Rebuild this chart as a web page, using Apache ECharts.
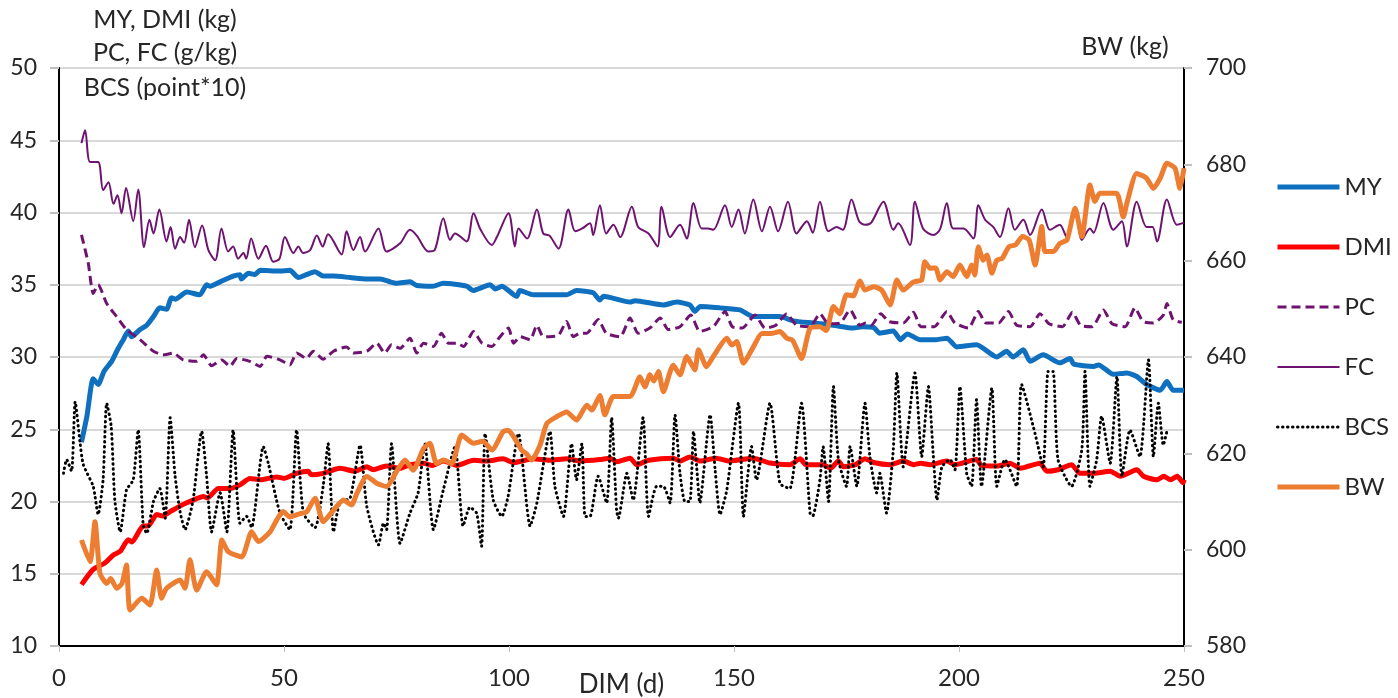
<!DOCTYPE html>
<html>
<head>
<meta charset="utf-8">
<title>DIM chart</title>
<script src="https://cdn.jsdelivr.net/npm/echarts@6/dist/echarts.min.js"></script>
<style>
  html, body { margin: 0; padding: 0; background: #fff; }
  #chart { width: 1398px; height: 698px; }
</style>
</head>
<body>
<div id="chart"></div>
<script>
  // [DIM, value] pairs
  const myData = [[5,24.1],[6.2,25.9],[7.6,28.5],[8.7,28.1],[10,29.0],[11.7,29.7],[13,30.5],[14.3,31.2],[15.4,31.8],[16.1,31.4],[18,31.9],[19.5,32.2],[21,32.8],[22.4,33.4],[23.9,33.3],[25,34.1],[25.8,34.0],[28.4,34.5],[31.3,34.3],[32.8,35.0],[33.6,34.9],[35.8,35.2],[38.7,35.6],[40.2,35.7],[40.5,35.4],[42.1,35.8],[43.5,35.7],[44.7,36.0],[49,35.95],[51.3,36.0],[53.2,35.5],[55,35.7],[56.9,35.9],[58.7,35.6],[61,35.6],[64.7,35.5],[68.4,35.4],[71.4,35.4],[73.6,35.2],[75,35.1],[78,35.2],[79.5,34.95],[83.1,34.9],[85.4,35.1],[90.6,34.9],[92,34.6],[95.8,35.0],[97,34.7],[98.4,34.9],[101.7,34.2],[102.4,34.6],[105.4,34.3],[112.8,34.3],[115,34.6],[118.7,34.45],[120.2,33.95],[121,34.2],[126.9,33.8],[128,33.9],[134.3,33.6],[137.3,33.8],[140.2,33.6],[141.3,33.15],[142.5,33.5],[146.9,33.4],[151.3,33.26],[154.3,32.8],[160.2,32.8],[163.2,32.5],[167.6,32.35],[172,32.2],[176.5,32.0],[178.5,32.1],[181,32.05],[182.4,31.65],[185.4,31.8],[187,31.2],[188.5,31.6],[191.3,31.2],[195,31.2],[197.3,31.3],[199.5,30.7],[203.9,30.85],[208.4,30.0],[210.6,30.4],[212,30.0],[214.3,30.5],[215.8,29.7],[218.7,30.15],[222.4,29.6],[224.7,29.9],[225.5,29.5],[229.9,29.35],[231,29.45],[234.3,28.8],[237.3,28.9],[239.5,28.65],[241.7,28.1],[244.7,27.7],[246.2,28.3],[247.6,27.7],[250,27.7]];

  const dmiData = [[5,14.25],[7.6,15.3],[10.2,15.75],[12.1,16.3],[13.6,16.55],[15.4,17.35],[16.2,17.2],[18.7,18.3],[19.8,18.3],[21.7,19.1],[23,19.0],[24.7,19.3],[27.6,19.8],[29.8,20.1],[32.1,20.35],[33,20.25],[35.4,20.9],[38,20.9],[40.2,21.15],[42.4,21.6],[44.7,21.5],[48.4,21.7],[50,21.6],[52.8,21.95],[55.4,22.1],[56,21.85],[58.7,21.95],[62.4,22.3],[65.8,22.1],[68.4,22.4],[69.8,22.2],[72.8,22.45],[75.8,22.3],[78,22.55],[81,22.65],[83,22.5],[85.4,22.8],[88.4,22.5],[92.1,22.85],[95,22.8],[98.7,22.95],[101,22.7],[105.4,22.95],[109,22.85],[112.8,22.95],[116,22.8],[120.2,22.9],[122.4,23.0],[124,22.75],[126.9,23.0],[128.4,22.55],[131,22.85],[136.5,23.0],[138,22.8],[140.2,23.08],[142.5,22.8],[146,23.0],[149,22.8],[154.3,23.0],[158,22.66],[162.4,22.55],[164.7,22.95],[166,22.55],[169.8,22.55],[171.5,22.3],[173.2,22.8],[174.3,22.4],[177,22.55],[179.1,22.95],[181,22.7],[184.7,22.55],[187.6,22.8],[190,22.55],[191.5,22.65],[193.6,22.55],[197.3,22.8],[199,22.55],[203.9,22.9],[205,22.5],[208.4,22.45],[211.3,22.65],[213.6,22.3],[218,22.65],[219.5,22.1],[222,22.2],[225,22.55],[226.9,21.95],[230,21.95],[233.6,22.1],[235.8,21.75],[239.5,22.2],[241,21.75],[244,21.5],[245.5,21.75],[247,21.5],[248.5,21.75],[249.8,21.3],[250,21.5]];

  const pcData = [[5,38.45],[6.5,36.5],[7.6,34.4],[8.7,35.0],[10.6,33.7],[12.8,32.8],[15,31.9],[18,31.2],[21,30.4],[23.2,30.15],[25.4,30.27],[27.6,29.8],[30.6,29.7],[32.1,30.15],[33.9,29.4],[36.2,29.8],[38,29.35],[39.5,29.9],[42.4,29.7],[44.7,29.35],[46.2,30.05],[49.1,29.8],[51.3,29.45],[52.8,30.27],[55,29.9],[56.5,30.4],[58.7,29.85],[61,30.4],[63.9,30.7],[65.4,30.27],[68.4,30.4],[70.6,30.96],[72.4,30.27],[73.9,30.85],[75.8,30.6],[78,31.3],[79.5,30.27],[81,30.96],[83.2,30.73],[85,31.65],[86.5,30.96],[88.4,30.96],[89.9,30.73],[92.1,31.77],[94,30.96],[96.2,30.73],[98,31.4],[99.9,32.0],[101,30.96],[102.5,31.4],[104.7,31.2],[106.2,32.2],[107.6,31.4],[109,31.4],[111,31.5],[112.8,32.45],[114.3,31.4],[115.8,31.65],[117.3,31.65],[119.8,32.6],[121.6,31.65],[124.7,31.4],[126.9,32.7],[128.7,31.65],[131.3,32.0],[133.6,32.7],[135.4,31.9],[138,32.1],[140.4,32.9],[142.4,31.77],[145.4,32.1],[148,33.15],[149.6,32.1],[151.8,32.0],[154.7,32.9],[156.9,32.0],[159.3,32.2],[161.7,33.0],[163.9,32.2],[166.9,32.1],[169.1,33.0],[171,32.3],[173.6,32.35],[175.8,33.26],[178,32.2],[179.3,32.35],[180.5,32.2],[182.6,33.0],[184.4,32.45],[187.6,32.35],[189.9,33.1],[191.5,32.1],[194.5,32.1],[197.3,33.15],[199.1,32.35],[202.1,32.0],[204.3,33.15],[206,32.35],[208.8,32.35],[211,33.15],[212.8,32.2],[215.8,32.1],[218,33.0],[220,32.3],[223,32.1],[225.2,33.1],[227,32.2],[229.6,32.1],[232.1,33.26],[234,32.3],[236.9,32.1],[239.1,33.4],[240.9,32.45],[243.2,32.35],[245.4,32.9],[246.2,33.7],[247.6,32.57],[249.5,32.4]];

  const fcData = [[5,44.8],[5.8,45.7],[6.9,43.5],[8.7,43.5],[9.8,41.55],[11,42.1],[12.1,40.6],[13,41.2],[13.9,39.95],[14.9,41.7],[16.5,39.4],[17.6,41.6],[18.9,37.6],[20.1,39.5],[21,38.55],[22.3,40.2],[23.9,38.0],[24.8,39.0],[25.8,37.5],[26.9,38.3],[27.8,37.9],[28.9,39.5],[30.2,37.6],[31.8,39.1],[33.2,37.4],[34.7,36.7],[36.1,38.9],[37.6,37.3],[38.7,37.65],[39.8,36.8],[41,37.2],[41.6,36.8],[42.7,38.2],[44.3,36.8],[46,37.7],[47.6,36.6],[49,36.8],[50.2,38.3],[52.1,37.2],[53.2,37.65],[54.2,37.2],[55.8,37.4],[57.3,38.4],[58.6,37.65],[59.8,38.5],[62.8,37.1],[63.9,38.7],[65.4,37.4],[66.9,38.3],[68,37.3],[71,38.9],[72.8,37.3],[75.8,37.87],[78,38.8],[79.5,38.4],[82.1,37.3],[83.5,37.4],[85.4,39.6],[86.9,38.1],[88,38.55],[90.6,38.0],[92.1,39.95],[93.7,38.8],[96.2,37.75],[97.3,38.3],[99.9,39.95],[101.3,37.65],[102.1,38.9],[104,38.2],[106.2,40.2],[107.6,38.55],[109,38.4],[111,37.5],[113.2,40.2],[114.7,38.7],[116.3,38.9],[118,39.25],[118.7,38.45],[120.2,40.5],[121.6,38.55],[123.2,39.15],[124.7,38.3],[127.3,40.4],[128.7,39.0],[131,38.55],[133,37.65],[133.9,40.4],[135.8,38.3],[138,39.15],[139.5,38.2],[141,40.65],[142.8,38.9],[144.2,38.9],[145.4,38.8],[148,40.5],[149.5,39.0],[151,40.2],[152.4,38.55],[154.3,40.9],[156.2,38.7],[158,40.4],[159.8,38.7],[162,40.75],[163.9,38.55],[166.2,39.4],[167.5,38.6],[169.1,40.75],[171,38.7],[172.8,39.0],[174.2,38.8],[176.1,40.9],[177.8,39.4],[179.1,39.15],[180.5,39.3],[183.2,40.75],[185.4,38.8],[186.5,39.25],[189.1,37.75],[190.2,40.75],[192,38.9],[194.3,38.45],[195.8,38.85],[197.3,40.65],[198.7,38.9],[201,38.9],[203.2,38.2],[204.3,40.5],[205.8,39.5],[207.6,39.0],[209.1,38.3],[211,40.3],[212.4,38.8],[214.3,39.5],[215.8,38.45],[218.4,40.2],[220.2,38.8],[222.4,39.15],[223.9,38.3],[225.8,40.4],[227.3,38.1],[229.1,38.9],[229.9,38.6],[232.1,40.65],[234.3,38.8],[236.2,39.4],[237.3,37.65],[239.5,40.75],[241.7,39.0],[243,39.0],[244,38.0],[246.2,40.9],[248.4,39.15],[250,39.3]];

  const bcsData = [[1,21.95],[1.7,22.9],[2.8,22.1],[3.6,26.9],[4.7,24.0],[5.4,22.55],[7.6,21.05],[8.7,19.1],[9.8,21.5],[10.6,26.8],[11.6,25.2],[12.4,20.1],[13.6,17.9],[15,20.8],[16.5,21.5],[17.6,24.95],[18.7,18.4],[19.5,17.8],[21,20.0],[22.4,20.9],[23.6,18.85],[24.7,25.8],[25.8,21.75],[26.9,19.3],[28,18.05],[29.8,20.1],[31.7,24.85],[32.8,21.75],[33.9,17.9],[35.8,20.6],[37.3,17.9],[38.7,24.95],[40.2,18.5],[41.7,18.97],[42.8,18.2],[45.4,23.8],[46.5,22.65],[49.1,19.2],[51.3,18.05],[52.8,24.95],[54.3,19.2],[56.9,18.2],[58.7,21.05],[59.8,24.0],[61,17.9],[62.4,19.9],[64.7,20.25],[66.9,23.9],[68.4,19.65],[71,17.0],[72.1,18.5],[72.8,18.05],[73.9,24.0],[75.8,17.1],[78,19.2],[79.8,20.6],[81.3,24.0],[83.2,18.05],[85.4,20.8],[88,23.8],[89.8,18.3],[91.3,19.6],[92.8,19.2],[93.9,16.9],[94.7,24.7],[96.5,20.1],[98.4,18.97],[99.8,20.35],[102.1,24.7],[104.7,18.3],[106.2,19.9],[109.1,24.85],[110.2,21.05],[112.1,18.97],[113.9,24.0],[115,21.5],[116.2,24.0],[116.9,18.97],[118,18.97],[119.8,21.75],[121.7,19.9],[122.8,25.8],[123.9,19.4],[124.3,18.85],[126.2,21.95],[127.6,20.1],[129.8,25.8],[131,18.97],[132.8,21.05],[134.3,21.05],[135.8,19.9],[136.9,26.0],[138,21.95],[139.1,20.0],[140.2,20.0],[141,24.85],[141.7,22.4],[142.4,19.9],[144.7,26.0],[145.8,22.2],[146.9,19.1],[148.4,20.8],[151,26.8],[152.1,18.97],[153.9,23.8],[155,21.5],[158,26.8],[160.2,21.25],[162.4,20.9],[165,26.8],[166.9,19.2],[167.5,19.0],[169.1,21.5],[169.8,23.8],[171,20.0],[172.1,27.95],[173.2,22.9],[175,21.05],[175.8,23.8],[177.3,21.05],[179.1,26.8],[180.2,23.1],[181.7,20.6],[182.4,21.95],[183.9,19.2],[185.4,23.6],[186.2,28.9],[187.6,22.4],[190.2,28.9],[191.7,23.1],[193.2,27.95],[194.3,23.1],[195.1,20.1],[196.2,22.4],[198,22.9],[199.1,22.2],[200.2,27.95],[201.7,21.95],[202.8,21.05],[203.9,27.05],[205,21.05],[207.3,27.85],[208.4,21.05],[210.2,22.9],[212.8,21.05],[213.9,28.1],[216.9,24.7],[218.7,22.4],[219.8,29.0],[220.9,29.0],[222,22.9],[225,21.05],[227.3,23.6],[228,29.0],[229.1,21.05],[230.6,22.9],[231.7,25.9],[233.6,22.65],[235.1,28.65],[236.2,21.75],[238,24.95],[240.2,23.1],[242.1,29.8],[243.2,23.1],[244.3,26.8],[245.4,23.9],[246.2,24.85]];

  const bwData = [[5,602.0],[6.9,597.5],[8,605.8],[9.1,595.1],[10.6,593.0],[11.5,594.0],[12.8,592.0],[14,593.0],[15,596.8],[15.8,587.5],[18.4,589.9],[20.2,588.5],[21.7,595.8],[22.8,589.9],[23.9,592.0],[26.9,593.7],[28,592.0],[29.1,597.9],[30.6,591.6],[32.8,595.4],[35,592.7],[36.2,602.0],[37.6,599.6],[40.6,598.5],[42.8,603.7],[44.3,601.7],[46.9,603.7],[48.4,606.2],[49.8,607.9],[51.3,606.8],[53.6,607.5],[55,607.8],[56.9,610.7],[58.7,605.8],[61,608.2],[63.2,610.3],[65,609.3],[66.2,611.7],[68.4,615.2],[70.6,613.8],[72.8,613.1],[75,616.2],[76.9,618.6],[78.7,616.5],[81,621.0],[82.4,622.1],[83.9,617.9],[85.4,618.6],[87.3,617.9],[89.5,623.8],[92.1,622.1],[94.2,622.5],[96.2,620.7],[98.7,624.5],[99.8,624.8],[101,623.5],[102.8,620.7],[104,619.8],[105,618.6],[106.9,621.7],[108.4,626.2],[110.6,627.6],[112.8,628.6],[115,626.9],[117.3,630.0],[118.4,629.0],[120.2,632.0],[121.3,628.0],[123.2,631.8],[126.9,631.8],[129.1,635.9],[130.2,633.8],[131.3,636.3],[132.2,635.0],[133.2,637.0],[134.3,632.8],[136.5,638.3],[138,636.3],[139.5,640.1],[141.3,637.3],[142.1,641.5],[143.9,638.0],[145.4,640.1],[148.4,643.9],[149.5,642.5],[150.6,643.2],[152.1,638.7],[154.3,642.1],[156.2,644.9],[158.4,644.9],[160.2,645.3],[161.7,643.9],[163,643.5],[165,639.7],[166.9,646.0],[169.1,646.3],[170.5,645.5],[172.1,650.5],[173.5,649.0],[175,652.9],[176.5,652.7],[178,655.8],[179.1,653.9],[181,654.6],[182.8,653.9],[184.7,650.8],[186.2,656.0],[187.6,653.9],[189.9,655.6],[191.7,656.0],[192.4,659.8],[193.6,658.4],[194.8,658.5],[195.8,656.0],[197.3,657.7],[198.7,656.7],[200.2,659.1],[201.7,656.7],[202.8,659.1],[203.5,657.0],[204.3,662.9],[205.4,660.1],[206.2,661.2],[207.3,657.4],[208.4,660.1],[209.6,660.5],[211.1,662.9],[212.6,663.3],[214.1,665.0],[215.6,664.3],[216.9,659.1],[218.4,667.1],[219.1,661.9],[221,661.9],[222.4,663.6],[224,664.3],[225.8,670.9],[227.3,665.0],[229.1,675.7],[230.2,672.3],[231.3,674.0],[235,674.0],[236.5,669.1],[237.4,672.3],[239.5,678.1],[241.7,677.1],[243.2,675.0],[244.7,677.1],[246.2,680.2],[248,679.2],[249.1,675.0],[250,679.2]];

  const legendNames = ['MY', 'DMI', 'PC', 'FC', 'BCS', 'BW'];

  const FONT = 'Lato, "Open Sans", sans-serif';
  const TXT = '#262626';
  const PURPLE = '#6E1470';

  let chart = echarts.init(document.getElementById('chart'));
  let option = {
    animation: false,
    backgroundColor: '#ffffff',
    textStyle: {fontFamily: FONT},
    grid: {left: 59, right: 214, top: 68, bottom: 52, outerBoundsMode: 'none', containLabel: false},
    legend: {
      orient: 'vertical',
      left: 1270,
      top: 170,
      itemWidth: 62,
      itemHeight: 18,
      itemGap: 36,
      itemStyle: {opacity: 0},
      lineStyle: {width: 'inherit', type: 'inherit', cap: 'inherit'},
      textStyle: {fontSize: 24, color: TXT, fontFamily: FONT},
      data: legendNames
    },
    graphic: [
      {type: 'text', style: {text: 'MY, DMI (kg)', x: 165, y: 20, align: 'center', verticalAlign: 'middle', fontSize: 25, fontFamily: FONT, fill: TXT}},
      {type: 'text', style: {text: 'PC, FC (g/kg)', x: 165, y: 53, align: 'center', verticalAlign: 'middle', fontSize: 25, fontFamily: FONT, fill: TXT}},
      {type: 'text', style: {text: 'BCS (point*10)', x: 165, y: 88, align: 'center', verticalAlign: 'middle', fontSize: 25, fontFamily: FONT, fill: TXT}},
      {type: 'text', style: {text: 'BW (kg)', x: 1125, y: 47, align: 'center', verticalAlign: 'middle', fontSize: 25, fontFamily: FONT, fill: TXT}}
    ],
    xAxis: {
      type: 'value',
      min: 0,
      max: 250,
      interval: 50,
      name: 'DIM (d)',
      nameLocation: 'middle',
      nameGap: 26,
      nameMoveOverlap: false,
      nameTextStyle: {fontSize: 26, color: TXT, fontFamily: FONT},
      axisLine: {lineStyle: {color: '#000', width: 2}},
      axisTick: {show: true, length: 6, lineStyle: {color: '#bfbfbf'}},
      axisLabel: {fontSize: 24, color: TXT, margin: 20},
      splitLine: {show: false}
    },
    yAxis: [
      {
        type: 'value',
        min: 10,
        max: 50,
        interval: 5,
        axisLine: {show: true, lineStyle: {color: '#000', width: 2}},
        axisTick: {show: true, length: 9, lineStyle: {color: '#bfbfbf', width: 2}},
        axisLabel: {fontSize: 23, color: TXT, margin: 22},
        splitLine: {show: true, lineStyle: {color: '#d9d9d9', width: 2}}
      },
      {
        type: 'value',
        position: 'right',
        min: 580,
        max: 700,
        interval: 20,
        axisLine: {show: true, lineStyle: {color: '#000', width: 2}},
        axisTick: {show: true, length: 8, lineStyle: {color: '#bfbfbf', width: 2}},
        axisLabel: {fontSize: 23, color: TXT, margin: 22},
        splitLine: {show: false}
      }
    ],
    series: [
      {
        name: 'MY', type: 'line', symbol: 'none', smooth: 0.2,
        lineStyle: {color: '#0F70C0', width: 5},
        itemStyle: {color: '#0F70C0'},
        data: myData
      },
      {
        name: 'DMI', type: 'line', symbol: 'none', smooth: 0.2,
        lineStyle: {color: '#FF0000', width: 5},
        itemStyle: {color: '#FF0000'},
        data: dmiData
      },
      {
        name: 'PC', type: 'line', symbol: 'none', smooth: 0.2,
        lineStyle: {color: PURPLE, width: 3, type: [9, 5]},
        itemStyle: {color: PURPLE},
        data: pcData
      },
      {
        name: 'FC', type: 'line', symbol: 'none', smooth: 0.3,
        lineStyle: {color: PURPLE, width: 2},
        itemStyle: {color: PURPLE},
        data: fcData
      },
      {
        name: 'BCS', type: 'line', symbol: 'none', smooth: 0.2,
        lineStyle: {color: '#000000', width: 3, type: [0.5, 4.5], cap: 'round'},
        itemStyle: {color: '#000000'},
        data: bcsData
      },
      {
        name: 'BW', type: 'line', symbol: 'none', smooth: 0.2, yAxisIndex: 1,
        lineStyle: {color: '#ED7D31', width: 5},
        itemStyle: {color: '#ED7D31'},
        data: bwData
      }
    ]
  };
  chart.setOption(option);
</script>
</body>
</html>
